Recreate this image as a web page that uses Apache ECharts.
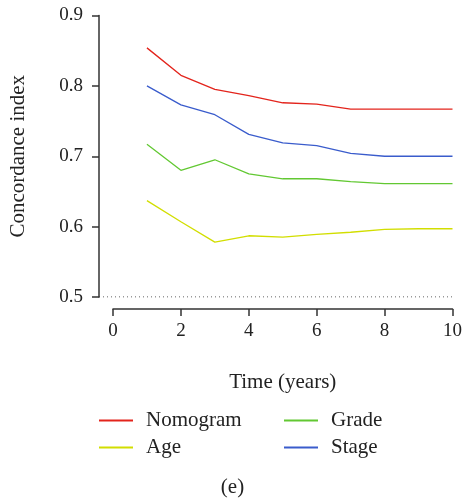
<!DOCTYPE html>
<html><head><meta charset="utf-8">
<script src="https://cdn.jsdelivr.net/npm/echarts@6/dist/echarts.min.js"></script>
<style>html,body{margin:0;padding:0;background:#fff}#c{width:465px;height:498px}</style>
</head><body><div id="c"></div>
<script>
const years = [1,2,3,4,5,6,7,8,9,10];
const nomogram = [0.854,0.815,0.795,0.786,0.776,0.774,0.767,0.767,0.767,0.767];
const age      = [0.637,0.607,0.578,0.587,0.585,0.589,0.592,0.596,0.597,0.597];
const grade    = [0.717,0.680,0.695,0.675,0.668,0.668,0.664,0.661,0.661,0.661];
const stage    = [0.800,0.773,0.759,0.731,0.719,0.715,0.704,0.700,0.700,0.700];
const refLine = 0.5;
const yTicks = ['0.5','0.6','0.7','0.8','0.9'];
const xTicks = ['0','2','4','6','8','10'];

const FONT = '"Liberation Serif","DejaVu Serif",serif';
const AX = '#333';
const TXT = '#222';
const colors = {Nomogram:'#e3241c', Age:'#d2de00', Grade:'#62c832', Stage:'#3a5ccc'};
const pair = a => years.map((x,i)=>[x,a[i]]);

const legendCommon = {
  orient:'vertical', itemGap:6, itemWidth:34, itemHeight:2, icon:'rect',
  padding:0,
  textStyle:{fontFamily:FONT, fontSize:21, color:TXT, padding:[0,0,0,8]}
};

const chart = echarts.init(document.getElementById('c'), null, {renderer:'canvas'});
chart.setOption({
  animation:false,
  backgroundColor:'#fff',
  grid:[
    {left:99, right:10, top:15.5, bottom:201},
    {left:113, right:10, top:15.5, bottom:201}
  ],
  xAxis:[
    {gridIndex:0, type:'value', min:0, max:1, show:false},
    {gridIndex:1, type:'value', min:0, max:10, interval:2, offset:12,
     axisLine:{show:true, lineStyle:{color:AX, width:1.5}},
     axisTick:{show:true, length:7, lineStyle:{color:AX, width:1.5}},
     axisLabel:{fontFamily:FONT, fontSize:19, color:TXT, margin:13,
       formatter:v=>xTicks[xTicks.indexOf(String(v))] ?? String(v)},
     splitLine:{show:false},
     name:'Time (years)', nameLocation:'middle', nameGap:63,
     nameTextStyle:{fontFamily:FONT, fontSize:21, color:TXT}}
  ],
  yAxis:[
    {gridIndex:0, type:'value', min:0.5, max:0.9, interval:0.1,
     axisLine:{show:true, lineStyle:{color:AX, width:1.5}},
     axisTick:{show:true, length:7, lineStyle:{color:AX, width:1.5}},
     axisLabel:{fontFamily:FONT, fontSize:19, color:TXT, margin:16,
       formatter:v=>yTicks.find(t=>Math.abs(parseFloat(t)-v)<1e-6) || v.toFixed(1)},
     splitLine:{show:false},
     name:'Concordance index', nameLocation:'middle', nameGap:70, nameRotate:90,
     nameTextStyle:{fontFamily:FONT, fontSize:21, color:TXT}},
    {gridIndex:1, type:'value', min:0.5, max:0.9, show:false}
  ],
  legend:[
    Object.assign({left:99, top:410, data:['Nomogram','Age']}, legendCommon),
    Object.assign({left:284, top:410, data:['Grade','Stage']}, legendCommon)
  ],
  title:{text:'(e)', left:'center', bottom:0, padding:0,
    textStyle:{fontFamily:FONT, fontSize:21, fontWeight:'normal', color:TXT}},
  series:[
    {type:'line', xAxisIndex:0, yAxisIndex:0, silent:true, symbol:'none',
     data:[[0,refLine],[1,refLine]],
     lineStyle:{color:'#333', width:1, type:[1,3]}},
    ...['Nomogram','Age','Grade','Stage'].map(n=>({
      name:n, type:'line', xAxisIndex:1, yAxisIndex:1, symbol:'none',
      data:pair({Nomogram:nomogram,Age:age,Grade:grade,Stage:stage}[n]),
      color:colors[n], lineStyle:{color:colors[n], width:1.3}
    }))
  ]
});
</script></body></html>
